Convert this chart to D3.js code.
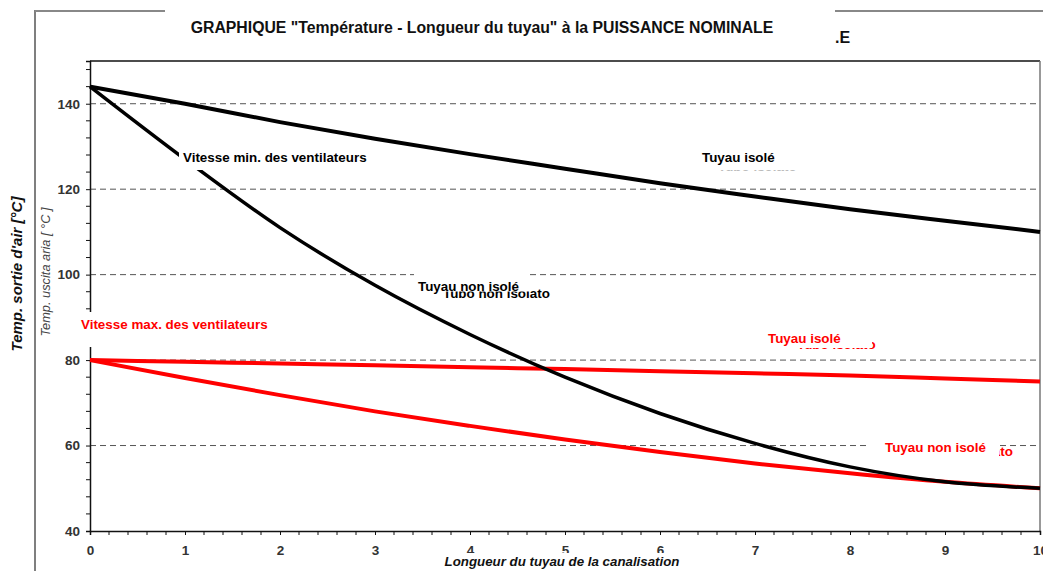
<!DOCTYPE html>
<html>
<head>
<meta charset="utf-8">
<script src="https://cdn.jsdelivr.net/npm/d3@7/dist/d3.min.js"></script>
<style>
  html, body { margin: 0; padding: 0; background: #fff; }
  svg { display: block; font-family: "Liberation Sans", Arial, sans-serif; }
</style>
</head>
<body>
<svg id="chart" width="1043" height="571"></svg>
<script>
// Pipe length (m) and outlet air temperature (°C)
const lengths = [0, 1, 2, 3, 4, 5, 6, 7, 8, 9, 10];
const minFanInsulated = [144, 140, 135.7, 131.8, 128.2, 124.8, 121.4, 118.3, 115.3, 112.6, 110];
const minFanBare      = [144, 127, 111, 97.5, 86, 76, 67.5, 60.5, 55, 51.5, 50];
const maxFanInsulated = [80, 79.6, 79.2, 78.8, 78.3, 77.9, 77.4, 76.9, 76.4, 75.7, 75];
const maxFanBare      = [80, 75.8, 71.8, 68, 64.6, 61.4, 58.5, 55.8, 53.5, 51.5, 50];

const xTicks = [0, 1, 2, 3, 4, 5, 6, 7, 8, 9, 10];
const yTicks = [40, 60, 80, 100, 120, 140];
const gridValues = [60, 80, 100, 120, 140];

const LABEL_SIZE = 13.4;

const svg = d3.select("#chart");
svg.append("rect").attr("width", 1043).attr("height", 571).attr("fill", "#fff");

const x = d3.scaleLinear().domain([0, 10]).range([90, 1040]);
const y = d3.scaleLinear().domain([40, 150]).range([531, 61]);

// outer frame fragments
svg.append("line").attr("x1", 35).attr("x2", 35).attr("y1", 10).attr("y2", 571)
  .attr("stroke", "#555").attr("stroke-width", 1.5);
svg.append("line").attr("x1", 35).attr("x2", 165).attr("y1", 11).attr("y2", 11)
  .attr("stroke", "#888").attr("stroke-width", 2);
svg.append("line").attr("x1", 835).attr("x2", 1043).attr("y1", 11).attr("y2", 11)
  .attr("stroke", "#888").attr("stroke-width", 2);

// title
svg.append("text").attr("x", 482).attr("y", 33).attr("text-anchor", "middle")
  .attr("font-size", 15.8).attr("font-weight", "bold").attr("fill", "#111")
  .text('GRAPHIQUE "Température - Longueur du tuyau" à la PUISSANCE NOMINALE');
svg.append("text").attr("x", 835).attr("y", 43)
  .attr("font-size", 16).attr("font-weight", "bold").attr("fill", "#111").text(".E");

// gridlines
svg.append("g").selectAll("line").data(gridValues).join("line")
  .attr("x1", x(0)).attr("x2", x(10))
  .attr("y1", d => y(d)).attr("y2", d => y(d))
  .attr("stroke", "#555").attr("stroke-width", 1).attr("stroke-dasharray", "6,4");

// plot frame: top and right
svg.append("line").attr("x1", x(0)).attr("x2", x(10)).attr("y1", y(150)).attr("y2", y(150))
  .attr("stroke", "#111").attr("stroke-width", 1.5);
svg.append("line").attr("x1", x(10)).attr("x2", x(10)).attr("y1", y(150)).attr("y2", y(40))
  .attr("stroke", "#777").attr("stroke-width", 1.5);

// axes
const yAxis = d3.axisLeft(y).tickValues(yTicks).tickSize(4).tickPadding(6).tickFormat(d3.format("d"));
const gy = svg.append("g").attr("transform", `translate(${x(0)},0)`).call(yAxis);
gy.append("g").selectAll("line").data(d3.range(44, 150, 4).filter(v => v % 20 !== 0)).join("line")
  .attr("x1", -4).attr("x2", 0).attr("y1", d => y(d)).attr("y2", d => y(d))
  .attr("stroke", "#111");

const xAxis = d3.axisBottom(x).tickValues(xTicks).tickSize(4).tickPadding(10).tickFormat(d3.format("d"));
const gx = svg.append("g").attr("transform", `translate(0,${y(40)})`).call(xAxis);
gx.append("g").selectAll("line").data(d3.range(0, 10.01, 0.2).filter(v => Math.abs(v - Math.round(v)) > 1e-6)).join("line")
  .attr("x1", d => x(d)).attr("x2", d => x(d)).attr("y1", 0).attr("y2", 4)
  .attr("stroke", "#111");

[gx, gy].forEach(g => {
  g.select(".domain").attr("stroke", "#111").attr("stroke-width", 1.5);
  g.selectAll(".tick line").attr("stroke", "#111");
  g.selectAll(".tick text").attr("font-size", 13.5).attr("font-weight", "bold").attr("fill", "#333")
    .attr("font-family", "Liberation Sans, Arial, sans-serif");
});

// curves
const line = vals => d3.line()
  .x((d, i) => x(lengths[i]))
  .y(d => y(d))
  .curve(d3.curveMonotoneX)(vals);

svg.append("path").attr("d", line(maxFanInsulated)).attr("fill", "none")
  .attr("stroke", "#ff0000").attr("stroke-width", 4);
svg.append("path").attr("d", line(maxFanBare)).attr("fill", "none")
  .attr("stroke", "#ff0000").attr("stroke-width", 4);
svg.append("path").attr("d", line(minFanInsulated)).attr("fill", "none")
  .attr("stroke", "#000").attr("stroke-width", 4);
svg.append("path").attr("d", line(minFanBare)).attr("fill", "none")
  .attr("stroke", "#000").attr("stroke-width", 3.5);

// labels: each sits on a white box; some partly hide an older caption below
function label(opts) {
  if (opts.ghost) {
    svg.append("text").attr("x", opts.ghost.x).attr("y", opts.ghost.y)
      .attr("font-size", LABEL_SIZE).attr("font-weight", "bold")
      .attr("fill", opts.ghost.color || opts.color).text(opts.ghost.text);
  }
  svg.append("rect").attr("x", opts.box[0]).attr("y", opts.box[1])
    .attr("width", opts.box[2]).attr("height", opts.box[3]).attr("fill", "#fff");
  svg.append("text").attr("x", opts.x).attr("y", opts.y)
    .attr("font-size", LABEL_SIZE).attr("font-weight", "bold").attr("fill", opts.color).text(opts.text);
}

label({ text: "Vitesse min. des ventilateurs", x: 183, y: 162, color: "#000",
        box: [179, 147, 192, 23] });
label({ text: "Tuyau isolé", x: 702, y: 162, color: "#000",
        ghost: { text: "Tubo isolato", x: 718, y: 171, color: "#bbb" },
        box: [698, 146, 110, 24] });
label({ text: "Tuyau non isolé", x: 418, y: 291, color: "#000",
        ghost: { text: "Tubo non isolato", x: 443, y: 298 },
        box: [414, 273, 116, 18.5] });
label({ text: "Vitesse max. des ventilateurs", x: 81, y: 329, color: "#ff0000",
        box: [76, 312, 198, 35] });
label({ text: "Tuyau isolé", x: 768, y: 343, color: "#ff0000",
        ghost: { text: "Tubo isolato", x: 797, y: 349 },
        box: [764, 328, 108, 20] });
label({ text: "Tuyau non isolé", x: 885, y: 452, color: "#ff0000",
        ghost: { text: "Tubo non isolato", x: 906, y: 456 },
        box: [868, 436, 131, 24] });

// axis titles
svg.append("rect").attr("x", 438).attr("y", 553).attr("width", 250).attr("height", 18).attr("fill", "#fff");
svg.append("text").attr("x", 562).attr("y", 566).attr("text-anchor", "middle")
  .attr("font-size", 13.3).attr("font-weight", "bold").attr("font-style", "italic").attr("fill", "#111")
  .text("Longueur du tuyau de la canalisation");

svg.append("text").attr("transform", "translate(22,274) rotate(-90)").attr("text-anchor", "middle")
  .attr("font-size", 15).attr("font-weight", "bold").attr("font-style", "italic").attr("fill", "#111")
  .text("Temp. sortie d'air [°C]");
svg.append("text").attr("transform", "translate(50,272) rotate(-90)").attr("text-anchor", "middle")
  .attr("font-size", 12.8).attr("font-style", "italic").attr("fill", "#444")
  .text("Temp. uscita aria [ °C ]");
</script>
</body>
</html>
